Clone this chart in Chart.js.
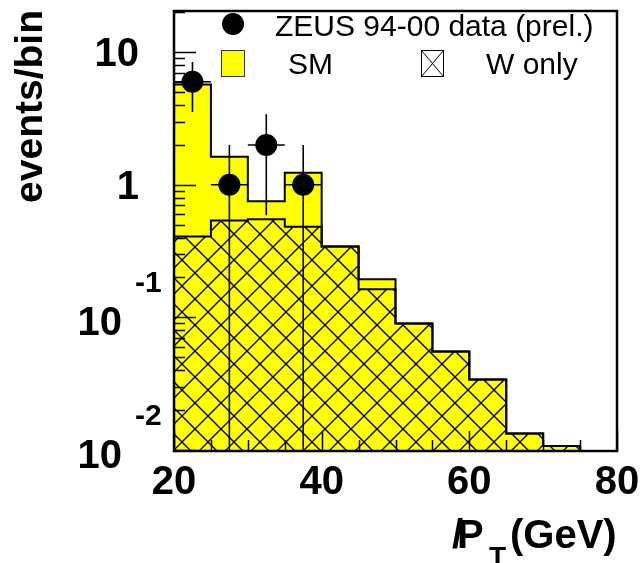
<!DOCTYPE html>
<html>
<head>
<meta charset="utf-8">
<script src="https://cdn.jsdelivr.net/npm/chart.js@4.4.1/dist/chart.umd.min.js"></script>
<style>
  html, body { margin: 0; padding: 0; background: #fff; }
  #c { display: block; }
</style>
</head>
<body>
<canvas id="c" width="643" height="563"></canvas>
<script>
// ---- data ----
const binEdges = [20, 25, 30, 35, 40, 45, 50, 55, 60, 65, 70, 75, 80];
const smValues = [5.72, 1.63, 0.75, 1.235, 0.342, 0.194, 0.090, 0.0553, 0.034, 0.0133, 0.0107, 0.009];
const wValues  = [0.407, 0.538, 0.55, 0.482, 0.342, 0.163, 0.090, 0.0553, 0.034, 0.0133, 0.0107, 0.009];
const dataX    = [22.5, 27.5, 32.5, 37.5];
const dataY    = [6, 1, 2, 1];
const dataYErr = [2.45, 1, 1.41, 1];
const dataXErr = [2.5, 2.5, 2.5, 2.5];
const xTickValues = [20, 40, 60, 80];
const xTickLabels = ['20', '40', '60', '80'];
const yTickValues = [0.01, 0.1, 1, 10];
const yTickBase   = ['10', '10', '1', '10'];
const yTickExp    = ['-2', '-1', '', ''];
const legendLabels = ['ZEUS 94-00 data (prel.)', 'SM', 'W only'];
const yTitle = 'events/bin';

const canvas = document.getElementById('c');
const mainCtx = canvas.getContext('2d');

function makeHatch(p, lw) {
  const c = document.createElement('canvas');
  c.width = p; c.height = p;
  const g = c.getContext('2d');
  g.strokeStyle = '#000';
  g.lineWidth = lw;
  g.beginPath();
  for (const o of [-p, 0, p]) {
    g.moveTo(o, 0); g.lineTo(o + p, p);
    g.moveTo(o, p); g.lineTo(o + p, 0);
  }
  g.stroke();
  return mainCtx.createPattern(c, 'repeat');
}
const hatch = makeHatch(26, 1.4);

// one point per bin edge; the last value is repeated to close the final bin
function stepPoints(values) {
  return binEdges.map((x, i) => ({ x: x, y: values[Math.max(0, Math.min(i - 1, values.length - 1))] }));
}

function line(ctx, x1, y1, x2, y2) {
  ctx.beginPath(); ctx.moveTo(x1, y1); ctx.lineTo(x2, y2); ctx.stroke();
}

const decor = {
  id: 'decor',
  afterDatasetsDraw(chart) {
    const { ctx, chartArea: a, scales: { x, y } } = chart;
    ctx.save();
    ctx.strokeStyle = '#000';
    // error bars
    ctx.lineWidth = 1.6;
    dataX.forEach((xv, i) => {
      const px = x.getPixelForValue(xv);
      const py = y.getPixelForValue(dataY[i]);
      const lo = dataY[i] - dataYErr[i];
      const pLo = lo > 0 ? Math.min(y.getPixelForValue(lo), a.bottom) : a.bottom;
      const pHi = Math.max(y.getPixelForValue(dataY[i] + dataYErr[i]), a.top);
      line(ctx, px, pHi, px, pLo);
      line(ctx, x.getPixelForValue(xv - dataXErr[i]), py, x.getPixelForValue(xv + dataXErr[i]), py);
    });
    // y ticks
    ctx.lineWidth = 1.5;
    for (let e = -3; e <= 2; e++) {
      for (let m = 1; m <= 9; m++) {
        const v = m * Math.pow(10, e);
        if (v < y.min || v > y.max) continue;
        const py = Math.round(y.getPixelForValue(v)) + 0.5;
        line(ctx, a.left, py, a.left + (m === 1 ? 22 : 11), py);
      }
    }
    // x ticks
    for (let v = 20; v <= 80; v += 5) {
      const px = Math.round(x.getPixelForValue(v)) + 0.5;
      line(ctx, px, a.bottom, px, a.bottom - (v % 20 === 0 ? 20 : 11));
    }
    ctx.restore();
  },
  afterDraw(chart) {
    const { ctx, chartArea: a, scales: { x, y } } = chart;
    ctx.save();
    // frame
    ctx.strokeStyle = '#000';
    ctx.lineWidth = 2.5;
    ctx.strokeRect(a.left, a.top, a.right - a.left, a.bottom - a.top);

    ctx.fillStyle = '#000';
    // x tick labels
    ctx.font = 'bold 40px "Liberation Sans", Arial, sans-serif';
    ctx.textAlign = 'center';
    ctx.textBaseline = 'alphabetic';
    xTickValues.forEach((v, i) => {
      ctx.fillText(xTickLabels[i], x.getPixelForValue(v), 494);
    });
    // y tick labels
    yTickValues.forEach((v, i) => {
      const py = y.getPixelForValue(v);
      if (yTickExp[i]) {
        ctx.font = 'bold 40px "Liberation Sans", Arial, sans-serif';
        ctx.textAlign = 'right';
        ctx.fillText(yTickBase[i], 122, py + 18);
        ctx.font = 'bold 30px "Liberation Sans", Arial, sans-serif';
        ctx.textAlign = 'left';
        ctx.fillText(yTickExp[i], 135, py - 25);
      } else {
        ctx.font = 'bold 40px "Liberation Sans", Arial, sans-serif';
        ctx.textAlign = 'right';
        ctx.fillText(yTickBase[i], 139, py + 14);
      }
    });
    // y title
    ctx.save();
    ctx.translate(42, 10);
    ctx.rotate(-Math.PI / 2);
    ctx.font = 'bold 39px "Liberation Sans", Arial, sans-serif';
    ctx.textAlign = 'right';
    ctx.textBaseline = 'alphabetic';
    ctx.fillText(yTitle, 0, 0);
    ctx.restore();
    // x title: P-slash sub T (GeV)
    ctx.font = 'bold 40px "Liberation Sans", Arial, sans-serif';
    ctx.textAlign = 'left';
    ctx.fillText('P', 457, 548);
    ctx.fillText('/', 452, 548);
    ctx.font = 'bold 28px "Liberation Sans", Arial, sans-serif';
    ctx.fillText('T', 489, 566);
    ctx.font = 'bold 40px "Liberation Sans", Arial, sans-serif';
    ctx.fillText('(GeV)', 510, 548);

    // legend
    ctx.font = '30px "Liberation Sans", Arial, sans-serif';
    ctx.textAlign = 'left';
    ctx.beginPath();
    ctx.arc(233, 24, 11, 0, Math.PI * 2);
    ctx.fill();
    ctx.fillText(legendLabels[0], 275, 36);
    // SM box
    ctx.fillStyle = '#ffff00';
    ctx.fillRect(221, 50, 23, 26);
    ctx.strokeStyle = '#333';
    ctx.lineWidth = 1;
    ctx.strokeRect(221.5, 50.5, 23, 26);
    ctx.fillStyle = '#000';
    ctx.fillText(legendLabels[1], 288, 74);
    // W box
    ctx.strokeStyle = '#000';
    ctx.strokeRect(421.5, 50.5, 22, 26);
    line(ctx, 421.5, 50.5, 443.5, 76.5);
    line(ctx, 421.5, 76.5, 443.5, 50.5);
    ctx.fillText(legendLabels[2], 486, 74);
    ctx.restore();
  }
};

new Chart(mainCtx, {
  type: 'line',
  data: {
    datasets: [
      {
        label: legendLabels[0], type: 'scatter',
        data: dataX.map((xv, i) => ({ x: xv, y: dataY[i] })),
        pointRadius: 11, pointBackgroundColor: '#000', pointBorderWidth: 0,
        showLine: false, order: 1
      },
      {
        label: legendLabels[2], data: stepPoints(wValues), stepped: 'after',
        fill: 'start', backgroundColor: hatch, borderColor: '#000', borderWidth: 2,
        pointRadius: 0, order: 2
      },
      {
        label: legendLabels[1], data: stepPoints(smValues), stepped: 'after',
        fill: 'start', backgroundColor: '#ffff00', borderColor: '#000', borderWidth: 2,
        pointRadius: 0, order: 3
      }
    ]
  },
  options: {
    responsive: false,
    animation: false,
    devicePixelRatio: 1,
    events: [],
    layout: { padding: { left: 174, right: 26, top: 9, bottom: 112 } },
    scales: {
      x: { type: 'linear', min: 20, max: 80, display: false },
      y: { type: 'logarithmic', min: 0.0098, max: 20.5, display: false }
    },
    plugins: { legend: { display: false }, tooltip: { enabled: false } }
  },
  plugins: [decor]
});
</script>
</body>
</html>
